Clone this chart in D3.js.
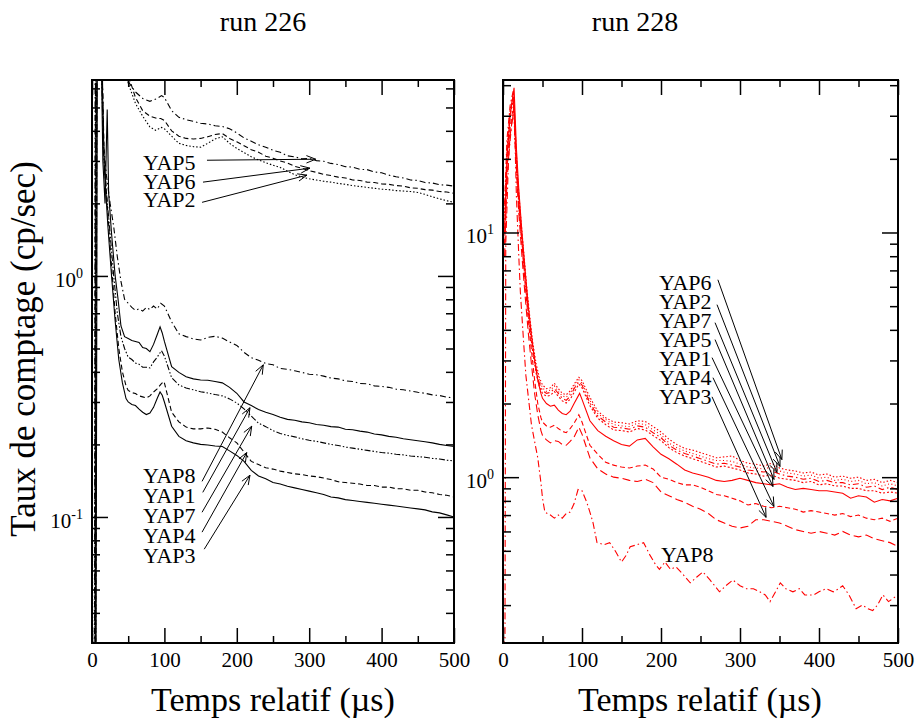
<!DOCTYPE html>
<html><head><meta charset="utf-8">
<script src="https://cdn.jsdelivr.net/npm/d3@7"></script>
<style>body{margin:0;background:#fff}svg{display:block}text{font-family:"Liberation Serif","Times New Roman",serif}</style>
</head><body><svg id="c" width="916" height="726"></svg>
<script>
// ---------- data ----------
const xMajor = [0,100,200,300,400,500];
const xMinor = [50,150,250,350,450];
const tTail = [100,110,120,130,140,150,160,170,180,190,200,210,220,230,240,250,260,270,280,290,300,310,320,330,340,350,360,370,380,390,400,410,420,430,440,450,460,470,480,490,500];

const leftYMajor = [0.1, 1];
const leftYMinor = [0.04,0.05,0.06,0.07,0.08,0.09,0.2,0.3,0.4,0.5,0.6,0.7,0.8,0.9,2,3,4,5,6];
const rightYMajor = [1, 10];
const rightYMinor = [0.3,0.4,0.5,0.6,0.7,0.8,0.9,2,3,4,5,6,7,8,9,20,30,40];

// run 226 (left)
const L_YAP5_early = [[0,.02],[3.5,.02],[4.5,20],[30,15],[45,8],[50,6.4],[60,5.8],[70,5.45],[80,5.3],[90,5.45],[96,5.6]];
const L_YAP5_tail = [5.5,4.85,4.55,4.45,4.38,4.3,4.27,4.2,4.17,4.08,3.92,3.74,3.62,3.5,3.42,3.32,3.26,3.15,3.12,3.06,3.07,3.01,2.99,2.93,2.9,2.84,2.83,2.77,2.76,2.7,2.68,2.62,2.58,2.55,2.5,2.49,2.44,2.43,2.39,2.38,2.36];
const L_YAP6_early = [[0,.02],[4,.02],[5,20],[35,15],[45,8.5],[50,6.8],[60,5.5],[70,4.85],[80,4.6],[90,4.5],[95,4.5]];
const L_YAP6_tail = [4.42,4.0,3.8,3.72,3.7,3.72,3.78,3.86,3.9,3.72,3.6,3.47,3.34,3.26,3.14,3.08,3.0,2.94,2.85,2.8,2.73,2.69,2.64,2.61,2.57,2.55,2.5,2.49,2.45,2.44,2.41,2.4,2.37,2.36,2.32,2.31,2.28,2.27,2.24,2.23,2.2];
const L_YAP2_early = [[0,2.0],[1,.02],[4,.02],[5,20],[35,14],[45,7.5],[50,6.3],[60,5.2],[70,4.6],[80,4.15],[88,4.02],[96,4.13]];
const L_YAP2_tail = [4.08,3.8,3.55,3.48,3.44,3.42,3.55,3.7,3.78,3.55,3.38,3.25,3.12,3.03,2.95,2.88,2.82,2.72,2.63,2.57,2.53,2.5,2.47,2.45,2.42,2.4,2.37,2.35,2.33,2.31,2.29,2.28,2.26,2.25,2.24,2.22,2.18,2.13,2.09,2.05,2.02];
const L_YAP8_early = [[0,.02],[4,.02],[5.5,14],[13,12],[16,3.5],[20,2.6],[25,2.0],[30,1.6],[35,1.2],[40,0.95],[45,0.8],[50,.77],[55,.74],[60,.72],[65,.73],[70,.715],[75,.74],[80,.725],[85,.75],[90,.73],[95,.77]];
const L_YAP8_tail = [.75,.645,.575,.56,.548,.542,.556,.562,.552,.532,.515,.482,.458,.447,.433,.428,.413,.41,.404,.398,.391,.389,.384,.377,.374,.367,.365,.358,.357,.35,.348,.345,.339,.337,.333,.329,.326,.321,.319,.314,.312];
const L_YAP1_early = [[0,.02],[4.5,.02],[6,14],[12,12],[15,3.0],[18,2.0],[21,4.9],[23,2.2],[27,1.5],[32,1.0],[36,0.8],[40,0.62],[45,0.56],[50,.55],[55,.54],[60,.535],[65,.53],[70,.505],[75,.5],[80,.485],[85,.52],[90,.57],[94,.615],[97,.58]];
const L_YAP1_tail = [.535,.42,.398,.382,.374,.37,.369,.365,.36,.345,.326,.3,.29,.279,.272,.266,.259,.254,.252,.248,.246,.242,.24,.237,.236,.231,.23,.227,.225,.221,.219,.216,.214,.211,.209,.207,.205,.203,.2,.198,.196];
const L_YAP7_early = [[0,.02],[5,.02],[6.5,13],[12,10],[16,3.2],[20,2.2],[25,1.5],[30,1.0],[35,0.7],[40,0.56],[45,0.5],[50,.46],[55,.45],[60,.435],[65,.43],[70,.418],[75,.418],[80,.415],[85,.44],[90,.46],[96,.49]];
const L_YAP7_tail = [.465,.378,.353,.343,.337,.331,.327,.322,.318,.309,.297,.281,.262,.245,.237,.228,.222,.218,.215,.211,.208,.206,.203,.2,.198,.195,.193,.191,.189,.187,.185,.184,.182,.181,.179,.178,.177,.175,.174,.172,.171];
const L_YAP4_early = [[0,.02],[5,.02],[7,13],[13,10],[17,3],[22,1.8],[27,1.1],[32,0.7],[37,0.5],[42,0.4],[47,0.35],[50,.335],[55,.328],[60,.325],[65,.318],[70,.315],[75,.312],[80,.318],[85,.33],[90,.34],[95,.355],[99,.365]];
const L_YAP4_tail = [.36,.272,.248,.236,.232,.232,.234,.231,.225,.213,.203,.186,.17,.165,.16,.158,.155,.153,.151,.15,.148,.147,.145,.143,.14,.139,.138,.137,.135,.135,.133,.133,.131,.131,.129,.129,.127,.126,.124,.123,.121];
const L_YAP3_early = [[0,.02],[5.5,.02],[7.5,13],[13,9],[17,2.8],[22,1.6],[27,1.0],[32,0.65],[37,0.45],[42,0.36],[47,0.31],[50,.30],[55,.293],[60,.29],[65,.28],[70,.272],[75,.266],[80,.27],[85,.285],[90,.31],[94,.33],[97,.32]];
const L_YAP3_tail = [.3,.238,.216,.207,.203,.2,.199,.197,.196,.188,.18,.17,.156,.148,.144,.139,.137,.134,.132,.13,.128,.126,.124,.121,.12,.118,.117,.116,.115,.114,.113,.112,.111,.11,.109,.108,.107,.105,.104,.102,.1];

// run 228 (right)
const R_YAP6_early = [[2,12],[5,22],[9,32],[13,36],[16,24],[19,16],[22,12],[26,8.5],[30,6],[34,4.5],[38,3.5],[42,2.9],[46,2.55],[50,2.38],[55,2.3],[60,2.32],[65,2.42],[70,2.3],[75,2.2],[80,2.17],[85,2.25],[90,2.4],[96,2.56]];
const R_YAP6_tail = [2.48,2.12,1.86,1.75,1.68,1.67,1.65,1.7,1.69,1.61,1.53,1.43,1.36,1.31,1.29,1.26,1.23,1.2,1.21,1.22,1.17,1.14,1.13,1.11,1.14,1.09,1.07,1.06,1.04,1.05,1.02,1.03,1.0,1.01,0.99,1.0,0.97,0.98,0.95,0.97,0.95];
const R_YAP2_early = [[2,11],[5,21],[9,31],[13,37],[16,23],[19,15.5],[22,11.5],[26,8.2],[30,5.8],[34,4.3],[38,3.4],[42,2.8],[46,2.48],[50,2.32],[55,2.24],[60,2.27],[65,2.36],[70,2.24],[75,2.15],[80,2.12],[85,2.2],[90,2.35],[96,2.5]];
const R_YAP2_tail = [2.42,2.06,1.82,1.72,1.64,1.62,1.61,1.66,1.64,1.56,1.49,1.38,1.32,1.28,1.25,1.22,1.19,1.17,1.17,1.16,1.13,1.1,1.09,1.08,1.1,1.06,1.04,1.03,1.01,1.02,0.99,1.0,0.97,0.98,0.96,0.97,0.94,0.95,0.92,0.94,0.92];
const R_YAP7_early = [[2,13],[5,24],[9,33],[13,38],[16,22],[19,15],[22,11],[26,7.9],[30,5.6],[34,4.2],[38,3.3],[42,2.75],[46,2.42],[50,2.26],[55,2.2],[60,2.22],[65,2.3],[70,2.2],[75,2.1],[80,2.06],[85,2.14],[90,2.3],[96,2.45]];
const R_YAP7_tail = [2.38,2.01,1.78,1.68,1.6,1.59,1.57,1.62,1.6,1.52,1.45,1.35,1.29,1.25,1.22,1.19,1.16,1.13,1.14,1.12,1.1,1.07,1.06,1.05,1.06,1.03,1.01,1.0,0.98,0.99,0.96,0.97,0.95,0.95,0.93,0.94,0.91,0.92,0.89,0.91,0.89];
const R_YAP5_early = [[2,10],[5,20],[9,30],[13,35],[16,21],[19,14.5],[22,10.8],[26,7.6],[30,5.4],[34,4.0],[38,3.2],[42,2.65],[46,2.35],[50,2.2],[55,2.14],[60,2.16],[65,2.24],[70,2.14],[75,2.05],[80,2.01],[85,2.08],[90,2.22],[96,2.4]];
const R_YAP5_tail = [2.32,1.96,1.74,1.64,1.56,1.55,1.53,1.58,1.56,1.48,1.41,1.32,1.26,1.22,1.19,1.16,1.13,1.1,1.11,1.09,1.07,1.04,1.03,1.01,1.02,0.99,0.98,0.97,0.95,0.96,0.93,0.94,0.92,0.92,0.9,0.9,0.88,0.88,0.86,0.87,0.86];
const R_YAP1_early = [[2,10],[5,20],[9,30],[14,39],[17,22],[20,15],[24,10],[28,7],[32,5],[36,3.8],[40,3.0],[44,2.5],[48,2.2],[50,2.1],[55,2.0],[60,1.95],[65,1.97],[70,1.88],[75,1.82],[80,1.8],[85,1.86],[90,2.0],[97,2.2]];
const R_YAP1_tail = [2.08,1.7,1.55,1.47,1.41,1.36,1.34,1.42,1.44,1.33,1.24,1.19,1.13,1.07,1.04,1.02,1.0,0.97,0.96,0.97,0.99,0.97,0.95,0.94,0.93,0.94,0.91,0.89,0.9,0.89,0.88,0.88,0.87,0.86,0.82,0.84,0.83,0.79,0.81,0.8,0.82];
const R_YAP4_early = [[2,9],[5,18],[9,27],[14,34],[17,20],[20,13],[24,9],[28,6.2],[32,4.4],[36,3.3],[40,2.5],[44,2.0],[48,1.75],[50,1.68],[55,1.62],[60,1.6],[65,1.63],[70,1.58],[75,1.54],[80,1.52],[85,1.58],[90,1.66],[96,1.8]];
const R_YAP4_tail = [1.68,1.35,1.24,1.15,1.12,1.1,1.09,1.11,1.12,1.08,1.0,0.98,0.95,0.93,0.93,0.91,0.88,0.85,0.84,0.82,0.8,0.77,0.78,0.76,0.75,0.76,0.75,0.74,0.72,0.73,0.72,0.71,0.7,0.71,0.69,0.7,0.68,0.67,0.68,0.66,0.68];
const R_YAP3_early = [[2,8],[5,16],[9,25],[14,32],[17,18],[20,12],[24,8],[28,5.5],[32,3.9],[36,2.9],[40,2.2],[44,1.8],[48,1.55],[50,1.48],[55,1.42],[60,1.38],[65,1.41],[70,1.4],[75,1.36],[80,1.35],[85,1.4],[90,1.46],[96,1.6]];
const R_YAP3_tail = [1.5,1.2,1.08,1.03,1.0,0.99,0.97,0.96,0.98,0.95,0.87,0.84,0.81,0.79,0.76,0.74,0.71,0.67,0.65,0.63,0.62,0.63,0.67,0.67,0.66,0.65,0.63,0.61,0.6,0.59,0.6,0.59,0.58,0.6,0.58,0.57,0.58,0.56,0.55,0.54,0.52];
const R_YAP8_points = [[0,0.2],[2.5,0.22],[3.5,9],[7,20],[11,28],[14,33],[17,14],[20,8],[22,5.7],[26,3.6],[29,2.6],[33,2.0],[36,1.64],[40,1.4],[44,1.2],[48,0.95],[50,0.82],[53,0.72],[60,0.7],[65,0.68],[70,0.7],[75,0.68],[80,0.71],[85,0.72],[90,0.78],[95,0.89],[100,0.88],[106,0.79],[110,0.72],[114,0.65],[119,0.54],[128,0.53],[135,0.54],[142,0.5],[150,0.45],[156,0.48],[161,0.52],[170,0.53],[178,0.54],[186,0.48],[193,0.44],[198,0.42],[205,0.45],[212,0.42],[219,0.43],[228,0.4],[237,0.37],[245,0.39],[253,0.41],[262,0.38],[268,0.36],[274,0.34],[282,0.36],[291,0.38],[300,0.36],[308,0.35],[317,0.35],[325,0.34],[332,0.33],[338,0.31],[345,0.34],[351,0.37],[358,0.35],[367,0.34],[375,0.35],[382,0.33],[393,0.33],[400,0.34],[409,0.35],[418,0.34],[425,0.35],[430,0.36],[438,0.33],[447,0.29],[455,0.3],[462,0.29],[468,0.285],[474,0.3],[481,0.33],[488,0.31],[494,0.32],[500,0.33]];

// annotations: [label, text t, text v, arrow start t, start v, tip t, tip v]
const leftNotes = [
  ["YAP5",70.4,2.75, 158.8,3.02, 309,3.05],
  ["YAP6",70.4,2.29, 153.3,2.45, 301,2.8],
  ["YAP2",70.4,1.93, 152,2.02, 297,2.62],
  ["YAP8",70.4,0.1385, 152,0.1405, 236.6,0.428],
  ["YAP1",70.4,0.1145, 153,0.1265, 218.2,0.284],
  ["YAP7",70.4,0.0946, 152,0.1046, 220.6,0.238],
  ["YAP4",70.4,0.0782, 152,0.0865, 213.7,0.185],
  ["YAP3",70.4,0.0646, 155,0.0735, 218.2,0.149]
];
const rightNotes = [
  ["YAP6",197.5,5.84, 272,6.41, 353,1.18],
  ["YAP2",197.5,4.88, 270.9,5.07, 350.6,1.106],
  ["YAP7",197.5,4.08, 268.4,4.28, 346.8,1.045],
  ["YAP5",197.5,3.42, 268.4,3.65, 343,0.979],
  ["YAP1",197.5,2.86, 264.6,3.08, 341.8,0.916],
  ["YAP4",197.5,2.39, 265.8,2.55, 343,0.759],
  ["YAP3",197.5,2.0, 264.6,2.13, 333,0.685],
  ["YAP8",200,0.449, null,null,null,null]
];

// ---------- build ----------
const D = {solid:null, dot:"1.5,2", dash:"5,3", longdash:"8,4", dashdot:"6,3,1.5,3", dashdotdot:"6,2,1.5,2,1.5,2"};
function join(early, tail){ return early.concat(tTail.map((t,i)=>[t, tail[i]])); }

const panels = [
  {x0:92,x1:454,y0:80,y1:643, yDom:[0.03,6.5], color:"#000",
   yMajor:leftYMajor, yMinor:leftYMinor, title:"run 226", titleX:263, xlabX:273, notes:leftNotes,
   series:[
     {d:join(L_YAP5_early,L_YAP5_tail), s:D.dashdot},
     {d:join(L_YAP6_early,L_YAP6_tail), s:D.dash},
     {d:join(L_YAP2_early,L_YAP2_tail), s:D.dot},
     {d:join(L_YAP8_early,L_YAP8_tail), s:D.dashdot},
     {d:join(L_YAP1_early,L_YAP1_tail), s:D.solid},
     {d:join(L_YAP7_early,L_YAP7_tail), s:D.dashdotdot},
     {d:join(L_YAP4_early,L_YAP4_tail), s:D.dash},
     {d:join(L_YAP3_early,L_YAP3_tail), s:D.solid}
   ]},
  {x0:503,x1:898,y0:80,y1:643, yDom:[0.21,42], color:"#ff0000",
   yMajor:rightYMajor, yMinor:rightYMinor, title:"run 228", titleX:635, xlabX:700, notes:rightNotes,
   series:[
     {d:join(R_YAP6_early,R_YAP6_tail), s:D.dot},
     {d:join(R_YAP2_early,R_YAP2_tail), s:"1,2.5"},
     {d:join(R_YAP7_early,R_YAP7_tail), s:D.dashdot},
     {d:join(R_YAP5_early,R_YAP5_tail), s:"2,2"},
     {d:join(R_YAP1_early,R_YAP1_tail), s:D.solid},
     {d:join(R_YAP4_early,R_YAP4_tail), s:D.dash},
     {d:join(R_YAP3_early,R_YAP3_tail), s:D.longdash},
     {d:R_YAP8_points, s:"7,3,1.5,3"}
   ]}
];

const svg = d3.select("#c");
svg.append("rect").attr("width",916).attr("height",726).attr("fill","#fff");

// y axis title
svg.append("text").attr("transform","translate(35,349) rotate(-90)")
  .attr("text-anchor","middle").attr("font-size",35).text("Taux de comptage (cp/sec)");

panels.forEach((p,pi)=>{
  const x = d3.scaleLinear().domain([0,500]).range([p.x0,p.x1]);
  const y = d3.scaleLog().domain(p.yDom).range([p.y1,p.y0]);
  const g = svg.append("g");
  const cid = "clip"+pi;
  svg.append("clipPath").attr("id",cid).append("rect")
    .attr("x",p.x0).attr("y",p.y0).attr("width",p.x1-p.x0).attr("height",p.y1-p.y0);

  // data lines
  const line = d3.line().x(d=>x(d[0])).y(d=>y(d[1]));
  const lg = g.append("g").attr("clip-path",`url(#${cid})`);
  p.series.forEach(s=>{
    lg.append("path").attr("d",line(s.d)).attr("fill","none")
      .attr("stroke",p.color).attr("stroke-width",1.1)
      .attr("stroke-dasharray",s.s);
  });

  // ticks via d3 axes
  function ax(gen, tx, ty, vals, size, fmt){
    const a = g.append("g").attr("transform",`translate(${tx},${ty})`)
      .call(gen.tickValues(vals).tickSize(size).tickPadding(9).tickFormat(fmt||""));
    a.select(".domain").remove();
    a.selectAll("line").attr("stroke","#000").attr("stroke-width",1.5);
    a.attr("font-family",null).attr("font-size",null);
    a.selectAll("text").attr("font-size",21).attr("fill","#000")
      .attr("font-family",'"Liberation Serif","Times New Roman",serif');
    return a;
  }
  ax(d3.axisBottom(x),0,p.y1,xMajor,-15,d3.format("d"));
  ax(d3.axisBottom(x),0,p.y1,xMinor,-7);
  ax(d3.axisTop(x),0,p.y0,xMajor,-15);
  ax(d3.axisTop(x),0,p.y0,xMinor,-7);
  ax(d3.axisLeft(y),p.x0,0,p.yMajor,-16);
  ax(d3.axisLeft(y),p.x0,0,p.yMinor,-8);
  ax(d3.axisRight(y),p.x1,0,p.yMajor,-16);
  ax(d3.axisRight(y),p.x1,0,p.yMinor,-8);

  // y tick labels 10^n
  p.yMajor.forEach(v=>{
    const e = Math.round(Math.log10(v));
    const t = g.append("text").attr("x",p.x0-9).attr("y",y(v)+11)
      .attr("text-anchor","end").attr("font-size",21);
    t.append("tspan").text("10");
    t.append("tspan").attr("font-size",14).attr("dy",-9).text(String(e));
  });

  // frame
  g.append("rect").attr("x",p.x0).attr("y",p.y0).attr("width",p.x1-p.x0).attr("height",p.y1-p.y0)
    .attr("fill","none").attr("stroke","#000").attr("stroke-width",2);

  // titles
  svg.append("text").attr("x",p.titleX).attr("y",31).attr("text-anchor","middle")
    .attr("font-size",28).text(p.title);
  svg.append("text").attr("x",p.xlabX).attr("y",711).attr("text-anchor","middle")
    .attr("font-size",34).text("Temps relatif (\u00b5s)");

  // annotations
  p.notes.forEach(n=>{
    g.append("text").attr("x",x(n[1])).attr("y",y(n[2])).attr("font-size",22).text(n[0]);
    if(n[3]!==null){
      const sx=x(n[3]), sy=y(n[4]), ex=x(n[5]), ey=y(n[6]);
      g.append("line").attr("x1",sx).attr("y1",sy).attr("x2",ex).attr("y2",ey)
        .attr("stroke","#000").attr("stroke-width",1);
      const ang = Math.atan2(sy-ey, sx-ex), L=10, da=0.38;
      const p1=[ex+L*Math.cos(ang+da), ey+L*Math.sin(ang+da)];
      const p2=[ex+L*Math.cos(ang-da), ey+L*Math.sin(ang-da)];
      g.append("path").attr("d",`M${p1[0]},${p1[1]}L${ex},${ey}L${p2[0]},${p2[1]}`)
        .attr("fill","none").attr("stroke","#000").attr("stroke-width",1);
    }
  });
});
</script></body></html>
